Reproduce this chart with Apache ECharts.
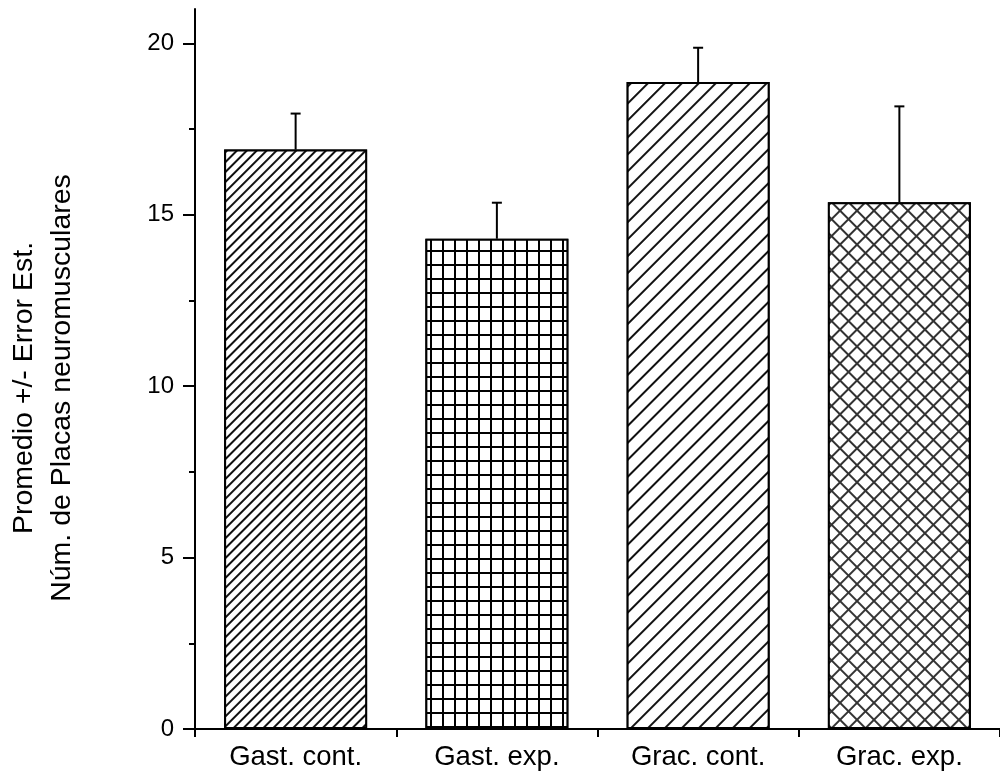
<!DOCTYPE html>
<html>
<head>
<meta charset="utf-8">
<script src="https://cdn.jsdelivr.net/npm/echarts@6/dist/echarts.min.js"></script>
<style>
html,body{margin:0;padding:0;background:#fff;}
#chart{width:1000px;height:774px;}
</style>
</head>
<body>
<div id="chart"></div>
<script>
const categories = ['Gast. cont.', 'Gast. exp.', 'Grac. cont.', 'Grac. exp.'];
const means = [16.9, 14.3, 18.87, 15.36];
const errors = [1.05, 1.05, 1.0, 2.8];
const majorTicks = [0, 5, 10, 15, 20];
const minorTicks = [2.5, 7.5, 12.5, 17.5];
const yTitleLines = ['Promedio +/- Error Est.', 'Núm. de Placas neuromusculares'];

const FONT = '"Liberation Sans", Arial, sans-serif';

const decals = [
  { symbol: 'rect', symbolSize: 1, color: '#111', backgroundColor: '#fff',
    dashArrayX: [1, 0], dashArrayY: [1.4, 5], rotation: -Math.PI / 4 },
  { symbol: 'rect', symbolSize: 1, color: '#fff', backgroundColor: '#000',
    dashArrayX: [9.8, 1.9], dashArrayY: [11.8, 1.9], rotation: 0 },
  { symbol: 'rect', symbolSize: 1, color: '#111', backgroundColor: '#fff',
    dashArrayX: [1, 0], dashArrayY: [1.4, 9.2], rotation: -Math.PI / 4 },
  { symbol: 'rect', symbolSize: 1, color: '#fff', backgroundColor: '#333',
    dashArrayX: [9.5, 1.2], dashArrayY: [9.5, 1.2], rotation: Math.PI / 4 }
];

const chart = echarts.init(document.getElementById('chart'), null, { renderer: 'canvas' });

const option = {
  backgroundColor: '#fff',
  animation: false,
  grid: { left: 195, top: 9, width: 812, bottom: 45, containLabel: false },
  xAxis: {
    type: 'category',
    data: categories,
    boundaryGap: true,
    axisLine: { lineStyle: { color: '#000', width: 2 } },
    axisTick: { show: true, length: 8, alignWithLabel: false, interval: 0, lineStyle: { color: '#000', width: 2 } },
    axisLabel: { color: '#000', fontFamily: FONT, fontSize: 27.5, margin: 14, interval: 0 },
    splitLine: { show: false }
  },
  yAxis: [
    {
      type: 'value', min: 0, max: 21, position: 'left',
      axisLine: { show: true, lineStyle: { color: '#000', width: 2 } },
      axisTick: { show: true, length: 12, customValues: majorTicks, lineStyle: { color: '#000', width: 2 } },
      axisLabel: { color: '#000', fontFamily: FONT, fontSize: 24, margin: 21, customValues: majorTicks },
      splitLine: { show: false }
    },
    {
      type: 'value', min: 0, max: 21, position: 'left',
      axisLine: { show: false },
      axisTick: { show: true, length: 6, customValues: minorTicks, lineStyle: { color: '#000', width: 2 } },
      axisLabel: { show: false },
      splitLine: { show: false }
    }
  ],
  graphic: yTitleLines.map((t, i) => ({
    type: 'text',
    x: 24 + i * 38,
    y: 388,
    rotation: Math.PI / 2,
    style: {
      text: t,
      fill: '#000',
      font: '28.5px ' + FONT,
      textAlign: 'center',
      textVerticalAlign: 'middle'
    }
  })),
  series: [
    {
      type: 'bar',
      barWidth: 143,
      data: means.map((v, i) => ({
        value: v,
        itemStyle: { color: '#fff', borderColor: '#000', borderWidth: 2, decal: decals[i] }
      })),
      z: 2
    },
    {
      type: 'custom',
      data: means.map((v, i) => [i, v, errors[i]]),
      z: 3,
      renderItem: function (params, api) {
        const x = api.value(0), y = api.value(1), e = api.value(2);
        const p0 = api.coord([x, y]);
        const p1 = api.coord([x, y + e]);
        const style = { stroke: '#000', lineWidth: 2 };
        return {
          type: 'group',
          children: [
            { type: 'line', shape: { x1: p0[0], y1: p0[1], x2: p1[0], y2: p1[1] }, style: style },
            { type: 'line', shape: { x1: p1[0] - 5, y1: p1[1], x2: p1[0] + 5, y2: p1[1] }, style: style }
          ]
        };
      }
    }
  ]
};
chart.setOption(option);
</script>
</body>
</html>
